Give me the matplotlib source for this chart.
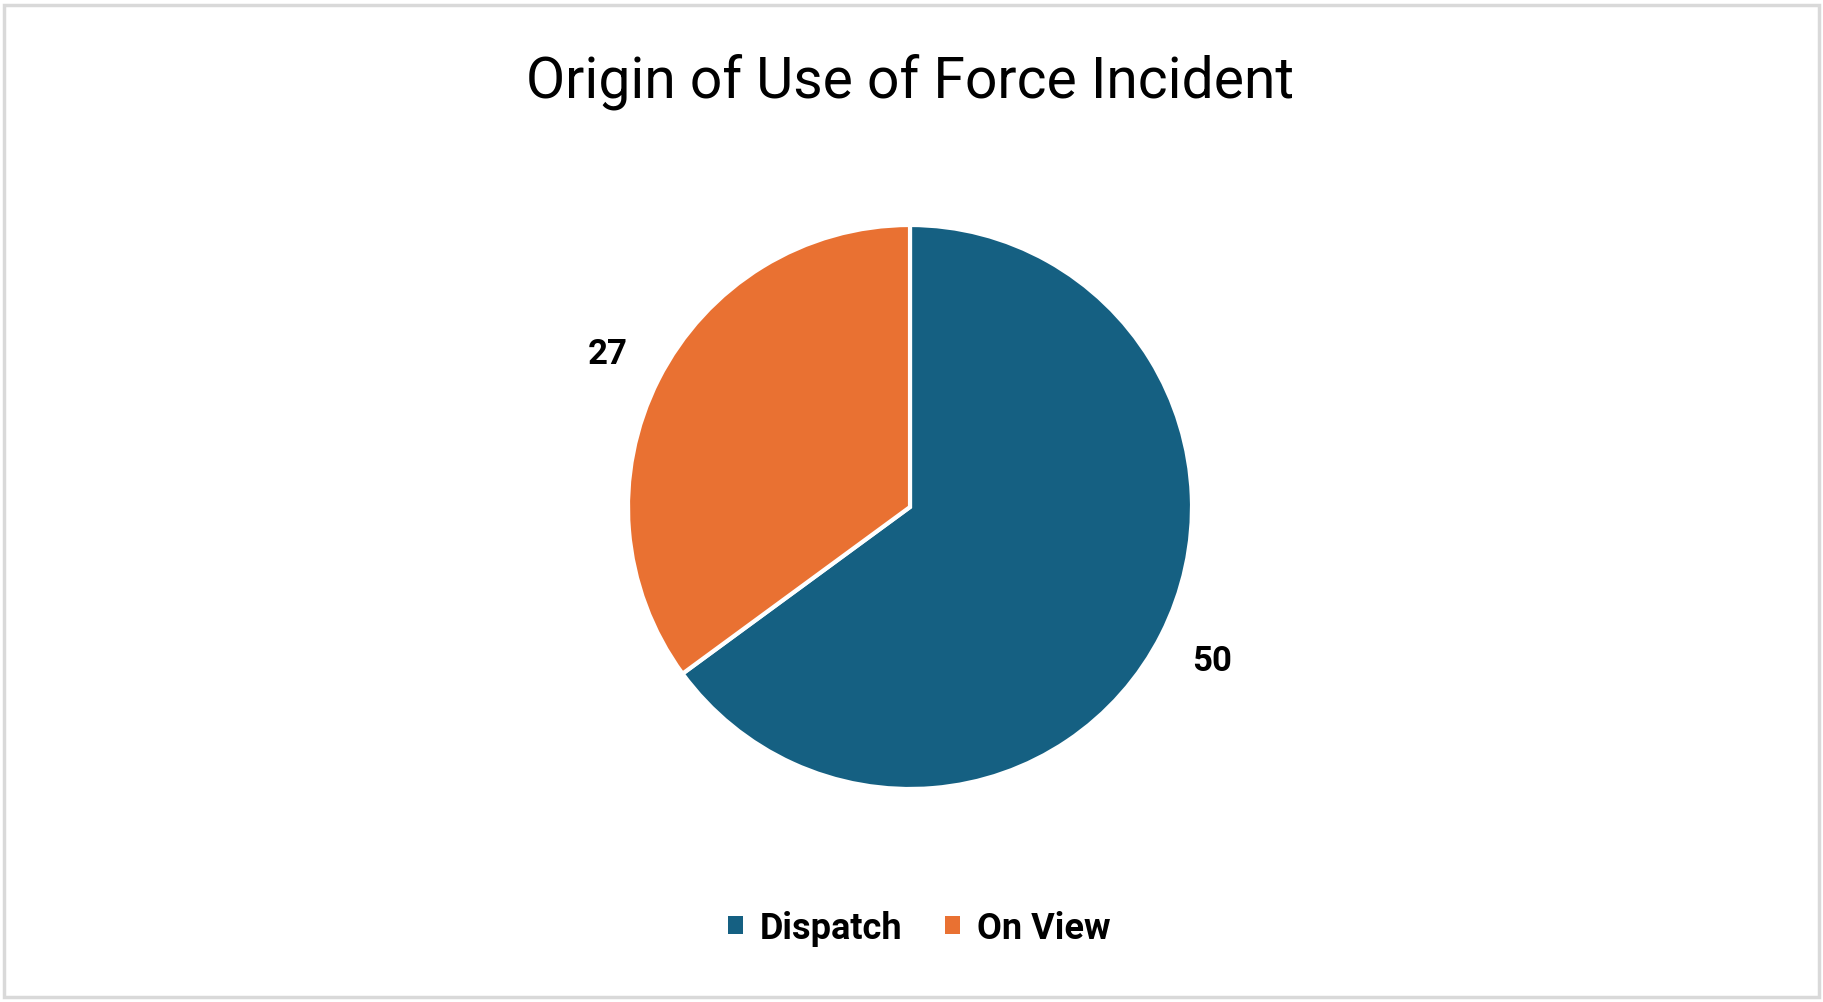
import matplotlib.pyplot as plt
from matplotlib.patches import Rectangle, Patch

categories = ['Dispatch', 'On View']
counts = [50, 27]
colors = ['#156082', '#E97132']

W, H = 1824, 1003
fig = plt.figure(figsize=(W / 100, H / 100), dpi=100)
fig.patch.set_facecolor('white')

# chart frame
fig.patches.append(Rectangle((4 / W, 5 / H), (W - 9) / W, (H - 11) / H,
                             transform=fig.transFigure, fill=False,
                             edgecolor='#d9d9d9', linewidth=2.5))

# pie centred at (911, 508) px, radius 282 px
r = 282
lim = 1.25
size = 2 * lim * r
cx, cy = 910, H - 508
ax = fig.add_axes([(cx - size / 2) / W, (cy - size / 2) / H, size / W, size / H])

total = sum(counts)
wedges, texts, autotexts = ax.pie(
    counts, colors=colors, startangle=90, counterclock=False,
    autopct=lambda p: f'{round(p * total / 100)}', pctdistance=1.2,
    wedgeprops=dict(edgecolor='white', linewidth=3),
    textprops=dict(fontsize=25, fontweight='bold', family='Roboto'))
ax.set_xlim(-lim, lim)
ax.set_ylim(-lim, lim)
ax.set_aspect('equal')

fig.text(cx / W, 1 - 82 / H, 'Origin of Use of Force Incident',
         ha='center', va='center', fontsize=41, family='Roboto', color='black')

handles = [Patch(facecolor=c, edgecolor='none') for c in colors]
fig.legend(handles, categories, loc='center', bbox_to_anchor=(919 / W, 1 - 929 / H),
           ncol=2, frameon=False, handlelength=0.42, handleheight=0.42,
           handletextpad=0.45, columnspacing=1.2,
           prop=dict(size=26, weight='bold', family='Roboto'))

fig.savefig('out.png', dpi=100)
